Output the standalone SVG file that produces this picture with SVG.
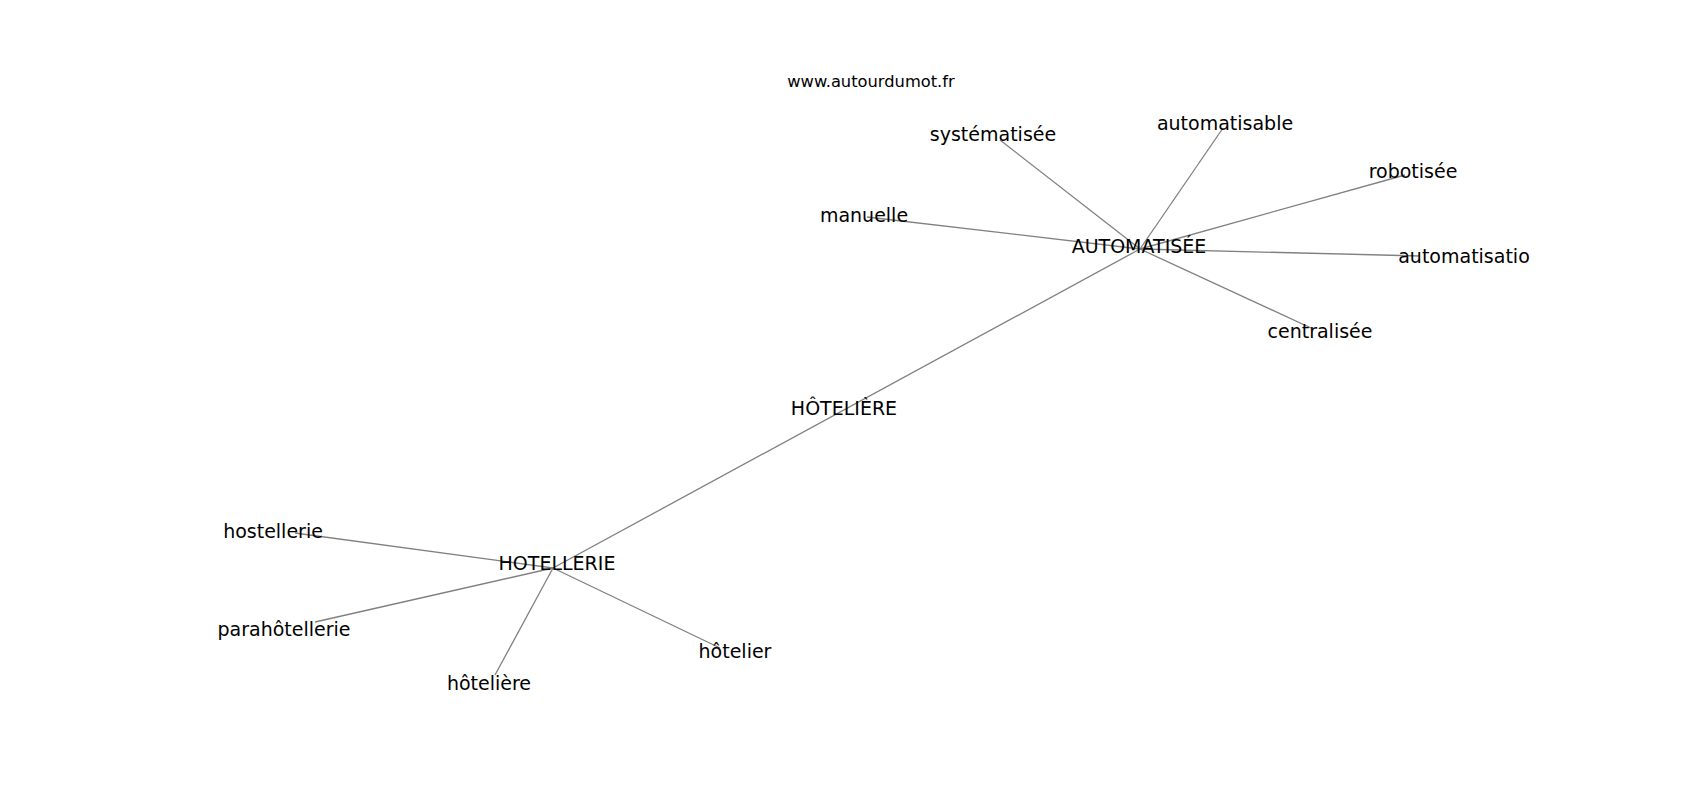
<svg xmlns="http://www.w3.org/2000/svg" width="1700" height="800" viewBox="0 0 1700 800">
<style>
text{font-family:"DejaVu Sans","Liberation Sans",sans-serif;fill:#000;text-anchor:middle}
.n{font-size:19px}
.w{font-size:16.3px}
#edges line{stroke:#808080;stroke-width:1.3}
</style>
<rect width="1700" height="800" fill="#fff"/>
<g id="edges">
<line x1="1140" y1="249" x2="553" y2="568"/>
<line x1="1140" y1="249" x2="1000" y2="140"/>
<line x1="1140" y1="249" x2="1223" y2="128"/>
<line x1="1140" y1="249" x2="1405" y2="175"/>
<line x1="1140" y1="249" x2="867" y2="217"/>
<line x1="1140" y1="249" x2="1420" y2="256"/>
<line x1="1140" y1="249" x2="1311" y2="328"/>
<line x1="553" y1="568" x2="295" y2="533"/>
<line x1="553" y1="568" x2="315" y2="622"/>
<line x1="553" y1="568" x2="495" y2="675"/>
<line x1="553" y1="568" x2="720" y2="648"/>
</g>
<g id="title"><text class="w" x="871" y="87">www.autourdumot.fr</text></g>
<g id="n-automatisee"><text class="n" x="1139" y="253">AUTOMATISÉE</text></g>
<g id="n-hoteliere-c"><text class="n" x="844" y="415">HÔTELIÈRE</text></g>
<g id="n-hotellerie"><text class="n" x="557" y="570">HOTELLERIE</text></g>
<g id="n-systematisee"><text class="n" x="993" y="141">systématisée</text></g>
<g id="n-automatisable"><text class="n" x="1225" y="130">automatisable</text></g>
<g id="n-robotisee"><text class="n" x="1413" y="178">robotisée</text></g>
<g id="n-manuelle"><text class="n" x="864" y="222">manuelle</text></g>
<g id="n-automatisatio"><text class="n" x="1464" y="263">automatisatio</text></g>
<g id="n-centralisee"><text class="n" x="1320" y="338">centralisée</text></g>
<g id="n-hostellerie"><text class="n" x="273" y="538">hostellerie</text></g>
<g id="n-parahotellerie"><text class="n" x="284" y="636">parahôtellerie</text></g>
<g id="n-hoteliere"><text class="n" x="489" y="690">hôtelière</text></g>
<g id="n-hotelier"><text class="n" x="735" y="658">hôtelier</text></g>
</svg>
